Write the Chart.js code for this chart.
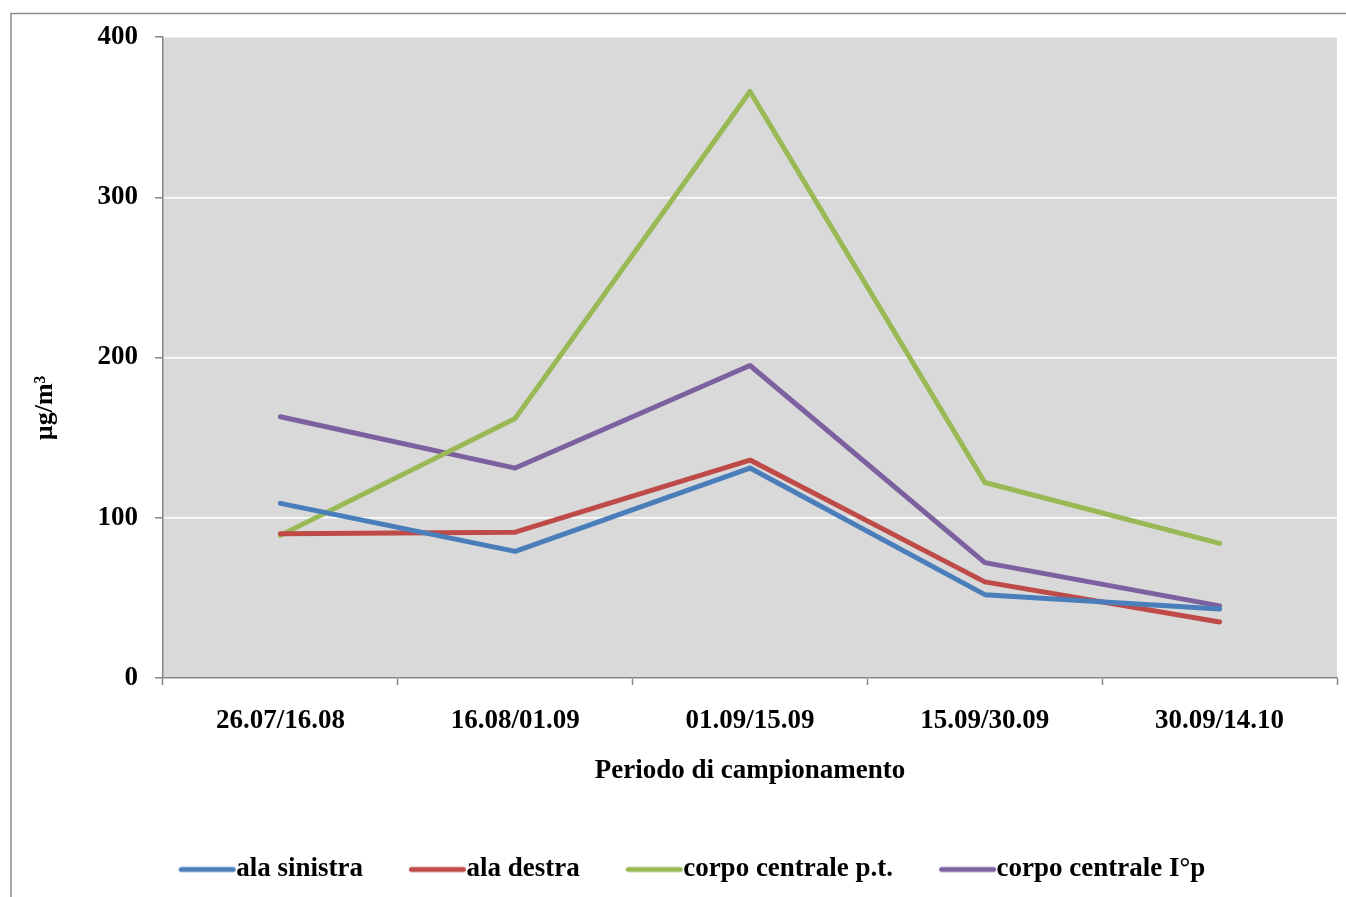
<!DOCTYPE html>
<html>
<head>
<meta charset="utf-8">
<script src="https://cdn.jsdelivr.net/npm/chart.js@4.4.1/dist/chart.umd.min.js"></script>
<style>
  html, body { margin: 0; padding: 0; background: #fff; }
  #wrap { width: 1346px; height: 897px; }
</style>
</head>
<body>
<div id="wrap"><canvas id="chart" width="1346" height="897"></canvas></div>
<script>
// dati
const periods = ['26.07/16.08', '16.08/01.09', '01.09/15.09', '15.09/30.09', '30.09/14.10'];
const alaSinistra = [109, 79, 131, 52, 43];
const alaDestra = [90, 91, 136, 60, 35];
const corpoCentralePT = [89, 162, 366, 122, 84];
const corpoCentraleIP = [163, 131, 195, 72, 45];
const yTicks = [0, 100, 200, 300, 400];

const seriesNames = ['ala sinistra', 'ala destra', 'corpo centrale p.t.', 'corpo centrale I°p'];
const seriesData = [alaSinistra, alaDestra, corpoCentralePT, corpoCentraleIP];
const colors = ['#4a7ebb', '#be4b48', '#98b954', '#7d60a0'];

const FONT = "'Liberation Serif', 'Times New Roman', serif";
const GRAY = '#868686';
const FS = 27;

// linea della legenda senza spazio prima del testo
function legendLine(color) {
  const c = document.createElement('canvas');
  c.width = 114; c.height = 8;
  const g = c.getContext('2d');
  g.strokeStyle = color;
  g.lineWidth = 5;
  g.lineCap = 'round';
  g.beginPath();
  g.moveTo(35 + 2.5, 4);
  g.lineTo(35 + 57 - 2.5, 4);
  g.stroke();
  return c;
}
const legendImgs = colors.map(legendLine);

const framePlugin = {
  id: 'frame',
  beforeDraw(chart) {
    const { ctx, chartArea: a } = chart;
    ctx.save();
    ctx.fillStyle = '#fff';
    ctx.fillRect(0, 0, chart.width, chart.height);
    ctx.fillStyle = '#d9d9d9';
    ctx.fillRect(a.left, a.top, a.right - a.left, a.bottom - a.top);
    ctx.strokeStyle = '#8c8c8c';
    ctx.lineWidth = 1.5;
    ctx.beginPath();
    ctx.moveTo(11, chart.height);
    ctx.lineTo(11, 13.5);
    ctx.lineTo(chart.width, 13.5);
    ctx.stroke();
    ctx.restore();
  },
  afterDraw(chart) {
    const ctx = chart.ctx;
    ctx.save();
    ctx.translate(45, 408);
    ctx.rotate(-Math.PI / 2);
    ctx.font = 'bold 26px ' + FONT;
    ctx.fillStyle = '#000';
    ctx.textAlign = 'center';
    ctx.textBaseline = 'middle';
    ctx.fillText('µg/m³', 0, 0);
    ctx.restore();
  }
};

Chart.defaults.color = '#000';
Chart.defaults.font.family = FONT;

new Chart(document.getElementById('chart'), {
  type: 'line',
  data: {
    labels: periods,
    datasets: seriesNames.map((name, i) => ({
      label: name,
      data: seriesData[i],
      borderColor: colors[i],
      backgroundColor: colors[i],
      borderWidth: 5,
      borderCapStyle: 'round',
      borderJoinStyle: 'round',
      pointRadius: 0,
      tension: 0
    }))
  },
  options: {
    responsive: false,
    animation: false,
    layout: { padding: { left: 47, right: 9, top: 37, bottom: 4 } },
    plugins: {
      tooltip: { enabled: false },
      legend: {
        position: 'bottom',
        labels: {
          font: { size: FS, weight: 'bold' },
          usePointStyle: true,
          pointStyleWidth: 44,
          padding: 46,
          generateLabels(chart) {
            const items = Chart.defaults.plugins.legend.labels.generateLabels(chart);
            items.forEach((it, i) => { it.pointStyle = legendImgs[i]; });
            return items;
          }
        }
      }
    },
    scales: {
      x: {
        offset: true,
        grid: { offset: true, drawOnChartArea: false, tickLength: 7, tickColor: GRAY, tickWidth: 1.5 },
        border: { color: GRAY, width: 1.5 },
        ticks: { font: { size: FS, weight: 'bold', lineHeight: 1 }, padding: 23, maxRotation: 0 },
        title: {
          display: true,
          text: 'Periodo di campionamento',
          font: { size: FS, weight: 'bold', lineHeight: 1 },
          padding: { top: 0, bottom: 25 }
        }
      },
      y: {
        min: 0,
        max: 400,
        afterBuildTicks(scale) { scale.ticks = yTicks.map(v => ({ value: v })); },
        afterFit(scale) { scale.width = 116; },
        grid: { color: '#ffffff', lineWidth: 1.5, tickLength: 8, tickColor: GRAY, tickWidth: 1.5 },
        border: { color: GRAY, width: 1.5 },
        ticks: { font: { size: FS, weight: 'bold' }, padding: 17 }
      }
    }
  },
  plugins: [framePlugin]
});
</script>
